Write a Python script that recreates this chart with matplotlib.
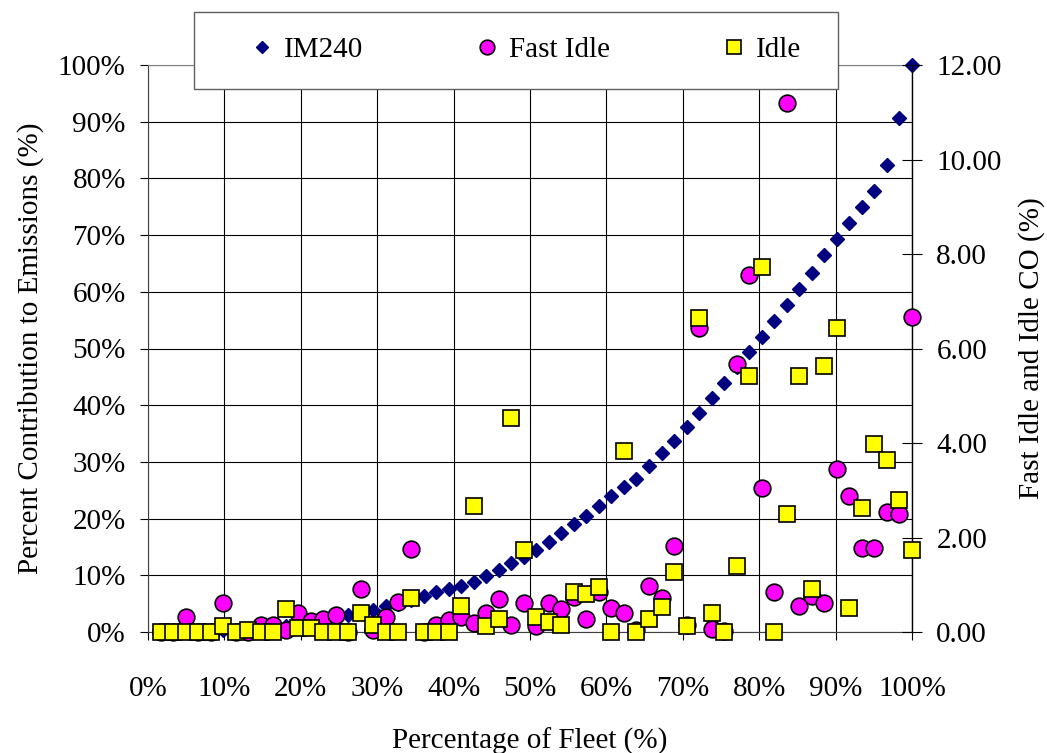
import matplotlib
matplotlib.use('Agg')
import matplotlib.pyplot as plt
from matplotlib.patches import Rectangle
from matplotlib.lines import Line2D
from matplotlib.ticker import FixedLocator

# ---------------- data ----------------
n_vehicles = 61
fleet_pct = [100.0 * (i + 1) / n_vehicles for i in range(n_vehicles)]

im240 = [0.1, 0.1, 0.2, 0.2, 0.3, 0.3, 0.4, 0.5, 0.6, 0.8,
         1.1, 1.4, 1.8, 2.2, 2.6, 3.0, 3.4, 3.9, 4.5, 5.0,
         5.6, 6.3, 7.1, 7.5, 8.1, 8.9, 9.9, 10.9, 12.1, 13.3,
         14.5, 15.8, 17.4, 19.0, 20.5, 22.2, 23.9, 25.6, 27.0, 29.3,
         31.6, 33.7, 36.2, 38.7, 41.2, 44.0, 46.7, 49.3, 52.1, 54.9,
         57.6, 60.5, 63.4, 66.5, 69.3, 72.1, 75.0, 77.7, 82.3, 90.7,
         100.0]

fast_idle = [0.0, 0.0, 0.31, 0.0, 0.0, 0.61, 0.0, 0.0, 0.15, 0.15,
             0.04, 0.40, 0.23, 0.27, 0.36, 0.0, 0.90, 0.04, 0.32, 0.64,
             1.75, 0.0, 0.15, 0.25, 0.32, 0.20, 0.40, 0.69, 0.15, 0.61,
             0.12, 0.61, 0.48, 0.75, 0.27, 0.85, 0.51, 0.40, 0.05, 0.98,
             0.71, 1.83, 0.15, 6.43, 0.06, 0.03, 5.67, 7.56, 3.04, 0.85,
             11.19, 0.55, 0.76, 0.61, 3.46, 2.88, 1.78, 1.78, 2.53, 2.49,
             6.67]

idle = [0.0, 0.0, 0.0, 0.0, 0.0, 0.13, 0.0, 0.05, 0.0, 0.0,
        0.48, 0.09, 0.09, 0.0, 0.0, 0.0, 0.40, 0.14, 0.0, 0.0,
        0.72, 0.0, 0.0, 0.0, 0.55, 2.67, 0.13, 0.27, 4.52, 1.74,
        0.31, 0.22, 0.15, 0.85, 0.80, 0.95, 0.0, 3.84, 0.0, 0.27,
        0.52, 1.28, 0.13, 6.64, 0.40, 0.0, 1.40, 5.42, 7.73, 0.0,
        2.49, 5.42, 0.90, 5.63, 6.43, 0.51, 2.62, 3.97, 3.64, 2.79,
        1.74]

x_ticks = list(range(0, 101, 10))
left_ticks = list(range(0, 101, 10))
right_ticks = [0, 2, 4, 6, 8, 10, 12]

series_names = ['IM240', 'Fast Idle', 'Idle']
x_label = 'Percentage of Fleet (%)'
left_label = 'Percent Contribution to Emissions (%)'
right_label = 'Fast Idle and Idle CO (%)'

# ---------------- style ----------------
plt.rcParams['font.family'] = ['Liberation Serif', 'DejaVu Serif']
FS = 21
W, H = 1047, 753

fig = plt.figure(figsize=(W / 100, H / 100), dpi=100)
fig.patch.set_facecolor('white')

x0, x1, ytop, ybot = 148, 912, 65, 632
ax = fig.add_axes([x0 / W, 1 - ybot / H, (x1 - x0) / W, (ybot - ytop) / H])
ax2 = ax.twinx()

ax.set_xlim(0, 100)
ax.set_ylim(0, 100)
ax2.set_ylim(0, 12)

# grid
ax.xaxis.set_major_locator(FixedLocator(x_ticks))
ax.yaxis.set_major_locator(FixedLocator(left_ticks))
ax.grid(True, color='black', linewidth=0.8)
ax.set_axisbelow(True)

ax.set_xticklabels([f'{v}%' for v in x_ticks], fontsize=FS)
ax.set_yticklabels([f'{v}%' for v in left_ticks], fontsize=FS)
ax2.yaxis.set_major_locator(FixedLocator(right_ticks))
ax2.set_yticklabels([f'{v:.2f}' for v in right_ticks], fontsize=FS)

ax.tick_params(axis='x', direction='out', length=6, width=0.8, pad=26, colors='black')
ax.tick_params(axis='y', direction='out', length=6, width=0.8, pad=10, colors='black')
ax2.tick_params(axis='y', direction='inout', length=15, width=0.8, pad=10, colors='black')

ax.spines['top'].set_color('#808080')
ax2.spines['top'].set_visible(False)
ax.spines['left'].set_color('#404040')
ax.spines['bottom'].set_color('#404040')
ax.spines['right'].set_visible(False)
ax2.spines['left'].set_visible(False)
ax2.spines['bottom'].set_visible(False)
ax2.spines['right'].set_color('black')
ax2.spines['right'].set_linewidth(1.0)

# series
ax.plot(fleet_pct, im240, linestyle='none', marker='D', markersize=7.5,
        color='#000080', markeredgecolor='#000080', clip_on=False, zorder=3)
ax2.plot(fleet_pct, fast_idle, linestyle='none', marker='o', markersize=12,
         markerfacecolor='#FF00FF', markeredgecolor='black', markeredgewidth=1.2,
         clip_on=False, zorder=3)
ax2.plot(fleet_pct, idle, linestyle='none', marker='s', markersize=11.5,
         markerfacecolor='#FFFF00', markeredgecolor='black', markeredgewidth=1.2,
         clip_on=False, zorder=4)

ax.set_xlabel(x_label, fontsize=FS, labelpad=18)
ax.set_ylabel(left_label, fontsize=FS, labelpad=10)
ax2.set_ylabel(right_label, fontsize=FS, labelpad=12)

# legend box
lx0, lx1, ly0, ly1 = 194, 838, 12.5, 89
fig.patches.append(Rectangle((lx0 / W, 1 - ly1 / H), (lx1 - lx0) / W, (ly1 - ly0) / H,
                             transform=fig.transFigure, facecolor='white',
                             edgecolor='#606060', linewidth=1.0, zorder=4))
handles = [
    Line2D([], [], linestyle='none', marker='D', markersize=6, color='#000080'),
    Line2D([], [], linestyle='none', marker='o', markersize=10.5,
           markerfacecolor='#FF00FF', markeredgecolor='black', markeredgewidth=1.2),
    Line2D([], [], linestyle='none', marker='s', markersize=10,
           markerfacecolor='#FFFF00', markeredgecolor='black', markeredgewidth=1.2),
]
leg = fig.legend(handles, series_names, ncol=3, loc='center',
                 bbox_to_anchor=(524 / W, 1 - 50 / H), frameon=False,
                 fontsize=FS, handlelength=1.0, handletextpad=0.25,
                 columnspacing=3.75)
leg.set_zorder(5)

fig.savefig('out.png', dpi=100)
